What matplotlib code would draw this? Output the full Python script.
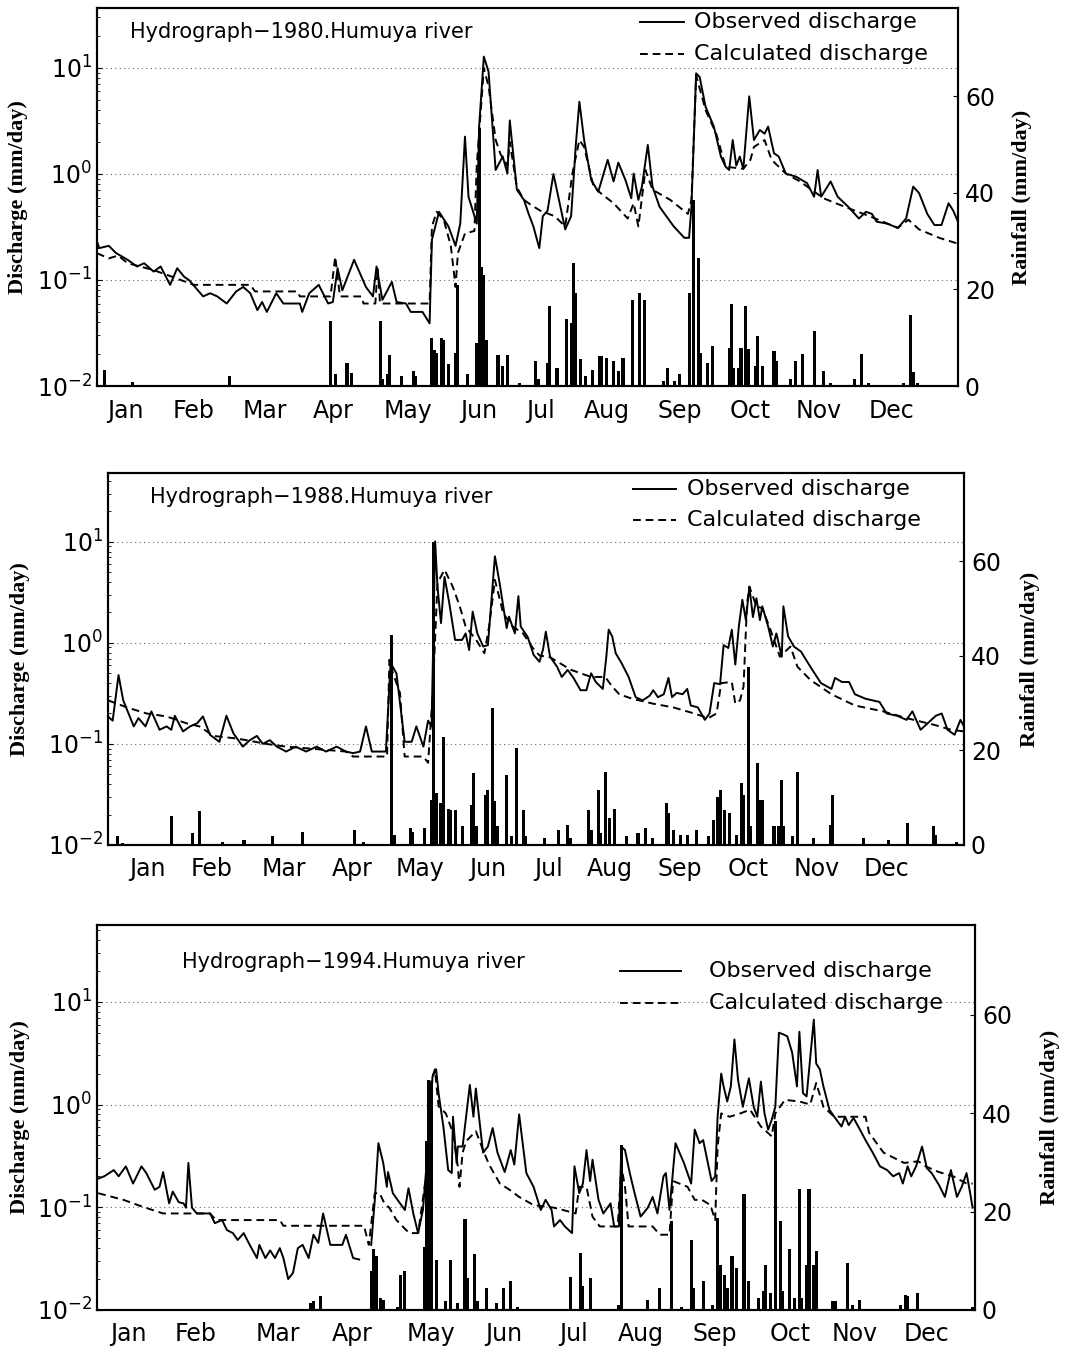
import numpy as np
import matplotlib.pyplot as plt

plt.rcParams['font.family'] = ['DejaVu Sans']
plt.rcParams['mathtext.default'] = 'regular'

months = ["Jan", "Feb", "Mar", "Apr", "May", "Jun",
          "Jul", "Aug", "Sep", "Oct", "Nov", "Dec"]

# ---------------- 1980 ----------------
obs_day_1980 = [1, 2, 6, 9, 14, 18, 21, 25, 28, 32, 35, 38, 40, 46, 49, 52, 56, 60, 63, 66,
                69, 71, 73, 77, 80, 87, 88, 91, 95, 99, 101, 103, 105, 110, 115, 118, 119.5,
                122, 126, 128, 132, 134, 139, 142, 143, 146, 150, 153, 155, 157, 158.5, 162,
                163, 165, 167, 170, 173, 175, 176, 179, 182, 184, 186, 188.5, 190, 192, 194.5,
                199.5, 202, 204, 205.5, 207.5, 210.5, 213.5, 217.5, 220, 222, 225, 227.5,
                228.5, 230.5, 232, 234.5, 236.5, 239.5, 245.5, 250, 252, 253, 255, 256.5, 259,
                262.5, 265.5, 267.5, 269, 270.5, 272, 273.5, 275, 277.5, 279.5, 282, 284,
                285.5, 288, 290, 293, 297.5, 302, 305, 306.5, 308, 312, 315, 319.5, 324, 327,
                329.5, 331.5, 336, 340.5, 344, 347, 349.5, 353, 356, 359, 362, 364, 366]
obs_q_1980 = [0.23, 0.20, 0.21, 0.18, 0.155, 0.134, 0.144, 0.12, 0.134, 0.09, 0.129, 0.107,
              0.10, 0.07, 0.075, 0.07, 0.06, 0.078, 0.086, 0.075, 0.052, 0.062, 0.05, 0.075,
              0.06, 0.06, 0.05, 0.075, 0.09, 0.06, 0.062, 0.129, 0.08, 0.155, 0.086, 0.07,
              0.134, 0.065, 0.096, 0.062, 0.06, 0.05, 0.05, 0.039, 0.24, 0.44, 0.32, 0.21,
              0.34, 2.25, 0.61, 0.34, 2.8, 12.8, 9.2, 1.09, 1.46, 1.01, 3.2, 0.71, 0.57, 0.42,
              0.32, 0.20, 0.40, 0.45, 1.0, 0.30, 0.40, 1.9, 4.8, 2.1, 0.88, 0.68, 1.36, 0.85,
              1.28, 0.88, 0.59, 1.01, 0.57, 0.76, 1.88, 0.76, 0.49, 0.32, 0.25, 0.25, 0.49,
              8.9, 8.2, 4.3, 2.8, 1.46, 1.17, 1.09, 2.09, 1.2, 1.46, 1.12, 5.4, 2.09, 2.6,
              2.4, 2.8, 1.57, 1.46, 1.01, 0.94, 0.82, 0.61, 1.09, 0.61, 0.85, 0.61, 0.49,
              0.38, 0.44, 0.42, 0.355, 0.34, 0.31, 0.38, 0.76, 0.66, 0.42, 0.33, 0.33, 0.53,
              0.45, 0.355]
calc_day_1980 = [1, 6, 10, 14, 25, 33, 42, 66, 68, 86, 87, 100, 102, 104, 113, 114, 119, 120,
                 121, 142, 143, 145, 148, 151, 153, 154, 157, 161, 162, 165, 167, 170, 172,
                 175, 176, 179, 182, 185, 189, 195, 199.5, 202.5, 205.5, 207.5, 211.5, 214.5,
                 220, 226, 228.5, 230.5, 233.5, 236.5, 244, 251.5, 253, 255, 259, 263.5, 267.5,
                 275, 278, 279.5, 284, 287, 293, 299, 309, 318, 328.5, 340.5, 345, 349.5, 358,
                 366]
calc_q_1980 = [0.179, 0.16, 0.17, 0.144, 0.124, 0.107, 0.09, 0.09, 0.078, 0.078, 0.07, 0.07,
               0.166, 0.07, 0.07, 0.06, 0.06, 0.13, 0.06, 0.06, 0.32, 0.44, 0.37, 0.21, 0.086,
               0.18, 0.275, 0.29, 1.2, 10.0, 6.7, 2.1, 1.55, 1.2, 2.0, 0.75, 0.57, 0.51, 0.45,
               0.40, 0.32, 1.0, 2.09, 1.8, 0.76, 0.66, 0.53, 0.38, 0.53, 0.32, 1.09, 0.71,
               0.57, 0.42, 0.57, 8.5, 4.0, 2.4, 1.17, 1.12, 1.36, 1.8, 2.09, 1.36, 1.01, 0.85,
               0.59, 0.49, 0.40, 0.31, 0.37, 0.30, 0.25, 0.22]
rain_day_1980 = [4, 16, 57, 100, 102, 107, 109, 121, 122, 124, 125, 130, 135, 136, 143, 144,
                 145, 147, 148, 150, 153, 154, 158, 162, 163, 164, 165, 166, 171, 173, 175,
                 180, 187, 188, 192, 193, 196, 200, 202, 203, 204, 206, 208, 211, 214, 215,
                 217, 220, 222, 224, 228, 231, 233, 241, 243, 246, 248, 252, 254, 256, 257,
                 260, 262, 269, 270, 271, 273, 274, 276, 277, 280, 281, 283, 288, 289, 295,
                 297, 300, 305, 309, 312, 322, 325, 328, 343, 346, 347, 349]
rain_mm_1980 = [3.4, 0.8, 2.0, 13.4, 2.4, 4.8, 2.7, 13.4, 1.4, 2.4, 6.5, 2.0, 3.1, 2.0, 9.9,
                7.5, 6.8, 9.9, 9.6, 4.5, 6.8, 20.9, 2.4, 8.9, 53.4, 24.7, 23.0, 9.6, 6.5, 4.1,
                6.5, 0.7, 5.2, 1.4, 4.8, 16.6, 3.8, 13.8, 13.1, 25.5, 19.3, 5.5, 2.1, 3.4,
                6.2, 6.3, 5.9, 5.2, 3.1, 5.9, 17.9, 19.3, 17.9, 1.0, 3.8, 1.0, 2.4, 19.3, 38.6,
                26.6, 6.9, 4.8, 8.3, 7.9, 16.9, 3.8, 3.8, 7.9, 16.6, 7.6, 4.1, 10.3, 4.1, 7.2,
                5.2, 1.4, 5.2, 6.6, 11.4, 3.1, 0.7, 1.4, 6.6, 0.7, 0.7, 14.8, 2.8, 0.7]

# ---------------- 1988 ----------------
obs_day_1988 = [1, 3, 5.5, 7.5, 12, 14, 17, 19.5, 23, 26, 28, 29.5, 33, 36, 39, 41.5, 44.5,
                48.5, 51.5, 54.5, 58.5, 61.5, 64.5, 67, 70, 73, 77, 81, 85.5, 90, 94, 98.5,
                102.5, 105.5, 108.5, 111, 113.5, 119.5, 121.5, 124, 127.5, 130.5, 132.5,
                135.5, 137.5, 139, 140.5, 141.5, 143, 144.5, 146.5, 149, 152, 153.5, 155,
                156.5, 158.5, 161, 163, 166, 168, 171, 172, 174.5, 176, 177, 180, 182.5, 185,
                186.5, 187.7, 189.5, 192.5, 194.5, 197, 199.5, 202.5, 205, 207, 209, 212,
                213.5, 214.5, 216, 217.5, 220, 223, 226, 229, 232, 233.5, 235.5, 238, 240,
                241.5, 243.5, 246, 248, 249.5, 252.5, 255.5, 257.5, 259.5, 262, 263.5, 265.5,
                267, 268.5, 270, 271.5, 273, 274.5, 276, 277.5, 279, 280, 282.5, 284.5, 286,
                288.3, 289, 291, 293.5, 296.5, 300.5, 305, 309.5, 311, 314, 317, 319.5, 324,
                327, 330, 333, 337.5, 341.5, 344, 347.5, 350.5, 354, 356.5, 359, 362, 364.5,
                366]
obs_q_1988 = [0.187, 0.17, 0.48, 0.27, 0.149, 0.18, 0.149, 0.21, 0.138, 0.149, 0.138, 0.19,
              0.133, 0.149, 0.16, 0.187, 0.123, 0.105, 0.19, 0.127, 0.094, 0.109, 0.12, 0.10,
              0.109, 0.094, 0.084, 0.094, 0.084, 0.094, 0.084, 0.094, 0.084, 0.081, 0.084,
              0.149, 0.084, 0.084, 0.63, 0.50, 0.105, 0.105, 0.149, 0.094, 0.17, 0.149, 10.1,
              3.6, 1.57, 4.5, 2.5, 1.07, 1.07, 1.24, 0.85, 2.04, 1.24, 0.92, 0.95, 7.2, 3.9,
              1.4, 1.82, 1.24, 2.9, 1.45, 1.14, 0.76, 0.65, 0.86, 1.29, 0.73, 0.58, 0.46,
              0.54, 0.45, 0.34, 0.34, 0.50, 0.41, 0.35, 0.73, 1.35, 1.16, 0.79, 0.63, 0.46,
              0.29, 0.27, 0.30, 0.34, 0.29, 0.31, 0.45, 0.29, 0.32, 0.31, 0.35, 0.24, 0.23,
              0.173, 0.20, 0.40, 0.39, 0.95, 0.89, 1.35, 0.61, 1.45, 2.67, 1.68, 3.6, 1.8,
              2.76, 1.68, 2.3, 1.45, 0.92, 1.24, 0.73, 2.3, 1.16, 0.92, 0.82, 0.58, 0.40,
              0.35, 0.45, 0.41, 0.41, 0.31, 0.28, 0.27, 0.26, 0.20, 0.19, 0.173, 0.21, 0.138,
              0.16, 0.19, 0.20, 0.138, 0.123, 0.173, 0.149]
calc_day_1988 = [1, 9, 17.5, 26, 34.5, 40, 46, 54.5, 60, 68.5, 77, 102.5, 105.5, 120, 121,
                 122.5, 125.5, 127.5, 135.5, 137.5, 139.5, 141.5, 144.5, 148, 151, 153.5, 158,
                 161.5, 163.5, 166, 169.5, 173.5, 178, 182, 185, 189.5, 198.5, 207, 213, 216,
                 219, 224.5, 233.5, 242, 251, 257, 260.5, 262.5, 267, 268.5, 270.5, 272, 273.5,
                 274.5, 277.5, 280, 283, 287.5, 292, 295, 300.5, 309.5, 319.5, 331.5, 341.5,
                 353.5, 360.5, 366]
calc_q_1988 = [0.27, 0.23, 0.20, 0.187, 0.16, 0.149, 0.12, 0.114, 0.109, 0.10, 0.094, 0.084,
               0.075, 0.075, 0.68, 0.50, 0.32, 0.075, 0.075, 0.065, 0.32, 3.9, 5.3, 3.6, 2.3,
               1.45, 1.07, 0.79, 1.45, 4.2, 1.97, 1.45, 1.24, 0.9, 0.75, 0.72, 0.54, 0.46,
               0.46, 0.37, 0.31, 0.28, 0.25, 0.23, 0.20, 0.18, 0.20, 0.40, 0.41, 0.25, 0.27,
               0.37, 2.47, 3.6, 2.3, 2.2, 1.45, 0.73, 0.92, 0.58, 0.43, 0.31, 0.24, 0.21,
               0.18, 0.154, 0.138, 0.133]
rain_day_1988 = [5, 7, 28, 37, 40, 50, 59, 71, 84, 106, 110, 122, 123, 130, 131, 136, 139,
                 140, 141, 143, 144, 146, 147, 149, 152, 156, 157, 158, 162, 163, 165, 166,
                 167, 171, 173, 175, 178, 179, 187, 193, 197, 198, 206, 207, 210, 211, 213,
                 215, 217, 222, 227, 230, 233, 239, 240, 242, 245, 248, 252, 257, 259, 261,
                 262, 264, 266, 269, 271, 272, 274, 275, 278, 279, 280, 285, 287, 288, 289,
                 293, 295, 302, 309, 310, 323, 334, 342, 353, 354, 363]
rain_mm_1988 = [1.8, 0.5, 6.1, 2.6, 7.2, 0.7, 1.1, 1.9, 2.8, 3.2, 0.7, 44.4, 2.1, 3.5, 2.8,
                3.5, 9.6, 64.0, 10.9, 8.8, 22.9, 7.7, 7.4, 7.4, 3.9, 8.5, 15.1, 3.9, 10.6,
                11.6, 28.9, 9.2, 3.9, 14.8, 1.8, 20.4, 7.4, 1.8, 1.4, 3.2, 4.2, 1.4, 7.4, 3.2,
                11.6, 2.5, 15.5, 5.6, 7.7, 1.8, 2.6, 3.5, 1.4, 8.8, 6.7, 3.2, 2.1, 2.1, 3.2,
                1.8, 5.3, 10.2, 11.6, 7.4, 6.7, 2.1, 13.0, 10.6, 37.7, 3.9, 17.3, 9.5, 9.5,
                3.9, 3.9, 13.7, 3.9, 1.8, 15.5, 1.4, 4.2, 10.6, 1.4, 1.1, 4.6, 3.9, 2.1, 0.7]

# ---------------- 1994 ----------------
obs_day_1994 = [1.5, 4, 8, 10, 13, 16, 19.5, 21.5, 25, 27, 28.5, 31, 32.5, 35, 37, 38, 39,
                40.5, 42.5, 48, 50, 53, 55, 57.5, 59.5, 62, 64.5, 67.5, 68.5, 71, 73, 75, 77,
                78.5, 80.5, 82.5, 84.5, 86.5, 89, 91, 93, 95, 98, 103, 104.5, 107.5, 110, 112,
                115, 116.5, 118, 120, 121.5, 122, 124, 127, 129, 130.5, 132.5, 134.5, 136.5,
                138.5, 140.5, 142, 143, 145, 147, 148.5, 149, 150.5, 151, 153, 156, 157.5,
                158.5, 161.5, 163.5, 165.5, 167.5, 170.5, 173, 174.5, 176.5, 179.5, 182.5,
                185.5, 187.5, 190, 191, 193.5, 195.5, 198.5, 199.5, 201.5, 203, 204.5, 206,
                207, 209.5, 211.5, 214.5, 216, 218, 219, 220.5, 222.5, 224.5, 227, 230, 232,
                234, 236.5, 237.5, 239, 241.5, 245, 248, 249.5, 251.5, 253, 256.5, 258, 259,
                260.5, 261.5, 263, 264.5, 266, 267.5, 269.5, 272, 274, 275.5, 277, 278.5, 280,
                281.5, 283, 284.5, 286.5, 288, 290, 292, 293, 294.5, 296, 299, 300, 301.5,
                303, 305.5, 307.5, 310.5, 312, 313.5, 315.5, 317.5, 320.5, 323.5, 326.5,
                329.5, 332, 334.5, 336, 338, 339.5, 341.5, 344, 346, 348, 351, 353.5, 356,
                358.5, 360.5, 362.5, 364, 365]
obs_q_1994 = [0.19, 0.20, 0.23, 0.20, 0.25, 0.17, 0.25, 0.215, 0.148, 0.158, 0.22, 0.109,
              0.142, 0.112, 0.109, 0.099, 0.27, 0.099, 0.087, 0.087, 0.070, 0.075, 0.060,
              0.056, 0.048, 0.056, 0.043, 0.032, 0.043, 0.032, 0.038, 0.032, 0.040, 0.032,
              0.020, 0.023, 0.040, 0.043, 0.032, 0.054, 0.045, 0.087, 0.043, 0.043, 0.054,
              0.032, 0.031, np.nan, 0.043, 0.118, 0.42, 0.27, 0.158, 0.22, 0.137, 0.109,
              0.094, 0.153, 0.087, 0.056, 0.094, 0.36, 1.87, 2.2, 1.29, 0.61, 0.23, 0.215,
              0.76, 0.27, 0.39, 0.39, 1.55, 0.76, 1.43, 0.34, 0.39, 0.59, 0.34, 0.22, 0.36,
              0.26, 0.80, 0.215, 0.158, 0.094, 0.118, 0.094, 0.065, 0.075, 0.065, 0.056,
              0.25, 0.137, 0.17, 0.36, 0.18, 0.29, 0.118, 0.087, 0.109, 0.065, 0.065, 0.39,
              0.36, 0.215, 0.137, 0.081, 0.099, 0.126, 0.087, 0.20, 0.215, 0.094, 0.42, 0.27,
              0.17, 0.57, 0.42, 0.45, 0.18, 0.20, 0.76, 2.0, 1.5, 1.07, 1.5, 4.3, 1.74, 0.95,
              1.8, 0.95, 0.76, 1.67, 0.82, 0.57, 0.71, 0.95, 5.0, 4.8, 4.6, 3.2, 1.5, 5.1,
              1.29, 1.2, 6.7, 2.5, 2.2, 1.5, 0.89, 0.76, 0.61, 0.76, 0.63, 0.74, 0.61, 0.45,
              0.34, 0.25, 0.23, 0.20, 0.215, 0.17, 0.25, 0.20, 0.25, 0.39, 0.24, 0.215, 0.165,
              0.126, 0.23, 0.126, 0.158, 0.215, 0.137, 0.099]
calc_day_1994 = [1.5, 12, 20, 28.5, 48, 50.5, 77, 78.5, 112, 114, 116.5, 118.5, 120.5, 122.5,
                 125.5, 129.5, 131, 134.5, 138, 140, 141.5, 143, 146, 149, 151, 151.7, 153,
                 154.5, 158.5, 161.5, 164, 168.5, 172.5, 176.5, 182.5, 191, 197, 200, 201.5,
                 204.5, 207, 210, 217.5, 219, 220.5, 222, 232, 235, 239, 240.5, 246.5, 249.5,
                 252.5, 256, 258, 259, 260.5, 264, 268.5, 272.5, 277, 281.5, 283, 287, 293,
                 297.5, 300, 303, 307.5, 320.5, 322, 328, 336.5, 342.5, 345.5, 351, 357,
                 362.5, 365]
calc_q_1994 = [0.137, 0.118, 0.101, 0.087, 0.087, 0.075, 0.075, 0.066, 0.066, 0.043, 0.137,
               0.137, 0.109, 0.099, 0.075, 0.060, 0.056, 0.056, 0.215, 1.74, 2.2, 0.96, 0.82,
               0.53, 0.25, 0.158, 0.34, 0.44, 0.55, 0.36, 0.26, 0.17, 0.148, 0.126, 0.105,
               0.099, 0.091, 0.087, 0.158, 0.158, 0.081, 0.065, 0.065, 0.25, 0.158, 0.065,
               0.065, 0.054, 0.054, 0.18, 0.158, 0.118, 0.118, 0.105, 0.075, 0.39, 0.82, 0.76,
               0.82, 0.89, 0.61, 0.49, 0.82, 1.11, 1.07, 1.0, 1.62, 0.95, 0.76, 0.76, 0.53,
               0.34, 0.27, 0.28, 0.25, 0.22, 0.20, 0.17, 0.17]
rain_day_1994 = [90, 91, 94, 115, 116, 117, 119, 120, 126, 127, 129, 137, 138, 139, 140, 142,
                 146, 148, 151, 154, 155, 158, 159, 163, 167, 170, 173, 176, 198, 202, 203,
                 206, 218, 219, 230, 235, 240, 244, 248, 249, 253, 257, 259, 260, 262, 263,
                 265, 267, 270, 272, 276, 278, 279, 281, 283, 285, 286, 289, 291, 293, 294,
                 296, 297, 299, 300, 307, 308, 313, 315, 318, 335, 337, 338, 342, 365]
rain_mm_1994 = [1.4, 1.8, 2.8, 7.9, 12.3, 10.9, 2.4, 2.1, 0.7, 7.2, 7.9, 12.9, 34.3, 46.8,
                46.5, 10.2, 1.8, 10.2, 1.4, 18.4, 6.5, 11.3, 1.8, 4.5, 1.4, 4.5, 5.8, 0.7, 6.8,
                11.6, 4.8, 6.5, 1.1, 33.6, 2.1, 4.5, 18.0, 0.7, 14.3, 4.5, 5.8, 1.1, 18.7, 9.2,
                7.1, 4.5, 10.9, 8.5, 23.5, 5.8, 2.4, 3.8, 9.2, 3.5, 38.4, 18.0, 3.8, 12.3, 2.4,
                24.5, 2.4, 9.2, 24.5, 9.2, 11.9, 1.8, 1.8, 9.6, 1.1, 2.1, 1.1, 3.1, 2.8, 3.5,
                0.7]

# label positions of the month names (day of year), per panel
month_pos_1980 = [13, 42, 72, 101, 133, 163, 189, 217, 248, 278, 307, 338]
month_pos_1988 = [18, 45, 76, 105, 134, 163, 189, 215, 245, 274, 303, 333]
month_pos_1994 = [14, 42, 76, 107, 140, 170, 199, 227, 258, 289, 316, 346]

fig = plt.figure(figsize=(10.68, 13.53), dpi=100)


def panel(rect, year, od, oq, cd, cq, rd, rmm, mpos, qtop, rtop, lay):
    ax = fig.add_axes(rect)
    ax2 = ax.twinx()
    ax.set_yscale('log')
    ax.set_xlim(1, 366)
    ax.set_ylim(0.01, qtop)
    ax2.set_ylim(0, rtop)

    ax.grid(axis='y', which='major', linestyle=(0, (1, 3)), color='0.4', lw=0.8)
    ax.plot(od, oq, color='k', lw=1.4)
    ax.plot(cd, cq, color='k', lw=1.4, linestyle=(0, (4, 2.5)))
    ax2.bar(rd, rmm, width=1.3, color='k', align='center')

    ax.set_xticks(mpos)
    ax.set_xticklabels(months)
    ax.set_yticks([0.01, 0.1, 1, 10])
    ax.tick_params(axis='x', length=0, pad=9, labelsize=17)
    ax.tick_params(axis='y', which='both', direction='in', labelsize=17)
    ax2.set_yticks([0, 20, 40, 60])
    ax2.tick_params(axis='y', direction='in', labelsize=17, pad=5)
    for a in (ax, ax2):
        for s in a.spines.values():
            s.set_linewidth(1.5)

    ax.set_ylabel("Discharge (mm/day)", family='Liberation Serif',
                  fontweight='bold', fontsize=16, va='center')
    ax.yaxis.set_label_coords(lay['ylab'], 0.5)
    ax2.set_ylabel("Rainfall (mm/day)", family='Liberation Serif',
                   fontweight='bold', fontsize=16, va='center')
    ax2.yaxis.set_label_coords(lay['rlab'], 0.5)

    tx, ty = lay['title']
    ax.text(tx, ty, "Hydrograph\u2212" + year + ".Humuya river",
            transform=ax.transAxes, fontsize=15, va='center')
    (x0, x1, y_obs, y_calc, xt) = lay['legend']
    ax.plot([x0, x1], [y_obs, y_obs], color='k', lw=1.4, transform=ax.transAxes)
    ax.plot([x0, x1], [y_calc, y_calc], color='k', lw=1.4,
            linestyle=(0, (4, 2.5)), transform=ax.transAxes)
    ax.text(xt, y_obs, "Observed discharge", transform=ax.transAxes,
            fontsize=16, va='center')
    ax.text(xt, y_calc, "Calculated discharge", transform=ax.transAxes,
            fontsize=16, va='center')


panel([0.0908, 0.7147, 0.8062, 0.2794], "1980", obs_day_1980, obs_q_1980,
      calc_day_1980, calc_q_1980, rain_day_1980, rain_mm_1980, month_pos_1980,
      36.8, 78.3,
      dict(ylab=-0.092, rlab=1.074, title=(0.038, 0.937),
           legend=(0.631, 0.682, 0.963, 0.878, 0.693)))

panel([0.1011, 0.3755, 0.8015, 0.2749], "1988", obs_day_1988, obs_q_1988,
      calc_day_1988, calc_q_1988, rain_day_1988, rain_mm_1988, month_pos_1988,
      48.0, 78.6,
      dict(ylab=-0.103, rlab=1.077, title=(0.049, 0.935),
           legend=(0.613, 0.664, 0.958, 0.874, 0.676)))

panel([0.0908, 0.0318, 0.8221, 0.2846], "1994", obs_day_1994, obs_q_1994,
      calc_day_1994, calc_q_1994, rain_day_1994, rain_mm_1994, month_pos_1994,
      56.0, 78.3,
      dict(ylab=-0.088, rlab=1.085, title=(0.097, 0.904),
           legend=(0.596, 0.665, 0.880, 0.796, 0.697)))

fig.savefig("out.png", dpi=100)
